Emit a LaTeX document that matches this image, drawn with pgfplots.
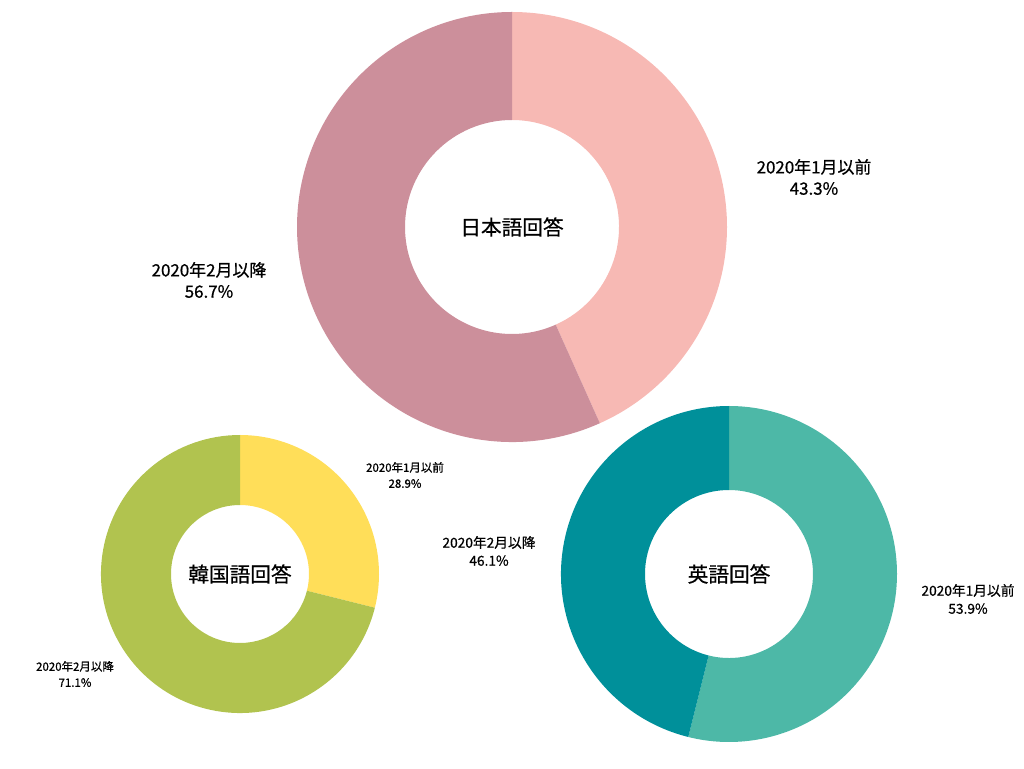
\documentclass[border=0pt]{standalone}
\usepackage{fontspec}
\setmainfont{Noto Sans CJK JP}[UprightFeatures={FakeBold=0.7}]
\usepackage{pgfplots}
\pgfplotsset{compat=1.18}

\definecolor{jpA}{HTML}{F7B9B4}
\definecolor{jpB}{HTML}{CC8F9B}
\definecolor{krA}{HTML}{FFDE59}
\definecolor{krB}{HTML}{B1C34F}
\definecolor{enA}{HTML}{4DB8A7}
\definecolor{enB}{HTML}{00909A}

% donut: cx, cy, outer R, inner r (pixels), first share (%), colour 1, colour 2
\newcommand{\donut}[7]{%
  \fill[#6] (axis cs:#1,#2) ++(90:{#3*0.75pt})
    arc[start angle=90, end angle={90-3.6*#5}, radius={#3*0.75pt}]
    -- ++({270-3.6*#5}:{(#3-#4)*0.75pt})
    arc[start angle={90-3.6*#5}, end angle=90, radius={#4*0.75pt}] -- cycle;
  \fill[#7] (axis cs:#1,#2) ++({90-3.6*#5}:{#3*0.75pt})
    arc[start angle={90-3.6*#5}, end angle=-270, radius={#3*0.75pt}]
    -- ++(270:{(#3-#4)*0.75pt})
    arc[start angle=-270, end angle={90-3.6*#5}, radius={#4*0.75pt}] -- cycle;
}

\begin{document}
\begin{tikzpicture}
\begin{axis}[
    x=0.75pt, y=0.75pt,
    xmin=0, xmax=1024,
    ymin=0, ymax=768,
    hide axis,
    clip=false,
  ]
  \path (axis cs:0,0) rectangle (axis cs:1024,768);

  % Japanese answers
  \donut{512}{541}{215}{107}{43.3}{jpA}{jpB}
  % Korean answers
  \donut{240}{194}{139}{69}{28.9}{krA}{krB}
  % English answers
  \donut{729}{194}{168}{84}{53.9}{enA}{enB}

  \node[font=\fontsize{15.5}{18}\selectfont] at (axis cs:512,541) {日本語回答};
  \node[font=\fontsize{15.5}{18}\selectfont] at (axis cs:240,194) {韓国語回答};
  \node[font=\fontsize{15.5}{18}\selectfont] at (axis cs:729,194) {英語回答};

  \node[align=center, font=\fontsize{12.7}{16}\selectfont] at (axis cs:814,591) {2020年1月以前\\43.3\%};
  \node[align=center, font=\fontsize{12.7}{16}\selectfont] at (axis cs:209,488) {2020年2月以降\\56.7\%};
  \node[align=center, font=\fontsize{8.6}{12}\selectfont] at (axis cs:405,293) {2020年1月以前\\28.9\%};
  \node[align=center, font=\fontsize{8.6}{12}\selectfont] at (axis cs:75,94) {2020年2月以降\\71.1\%};
  \node[align=center, font=\fontsize{10.3}{13.5}\selectfont] at (axis cs:489,217) {2020年2月以降\\46.1\%};
  \node[align=center, font=\fontsize{10.3}{13.5}\selectfont] at (axis cs:968,169) {2020年1月以前\\53.9\%};
\end{axis}
\end{tikzpicture}
\end{document}
